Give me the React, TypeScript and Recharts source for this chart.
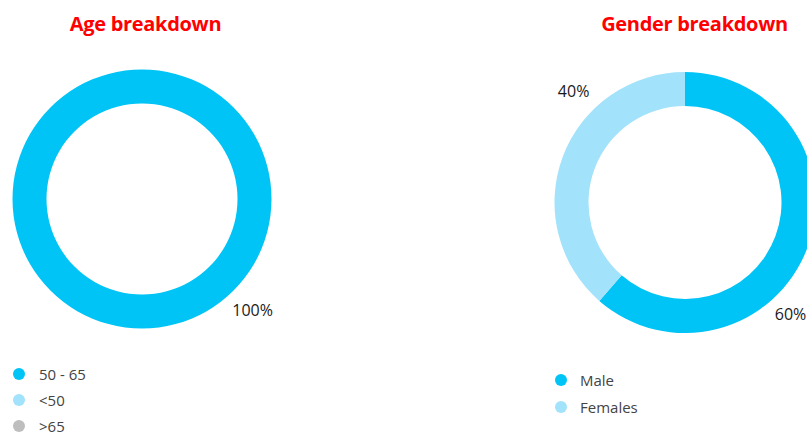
import React from 'react';
import { PieChart, Pie, Cell, Legend } from 'recharts';

const ageCategories = ['50 - 65', '<50', '>65'];
const ageValues = [100, 0, 0];
const ageLabels = ['100%', '', ''];
const genderCategories = ['Male', 'Females'];
const genderValues = [61.4, 38.6];
const genderLabels = ['60%', '40%'];
const titles = ['Age breakdown', 'Gender breakdown'];

const ageColors = ['#00C4F6', '#A2E2FA', '#BEBEBE'];
const genderColors = ['#00C4F6', '#A2E2FA'];

const ageData = ageCategories.map((name, i) => ({ name, value: ageValues[i], text: ageLabels[i] }));
const genderData = genderCategories.map((name, i) => ({
  name,
  value: genderValues[i],
  text: genderLabels[i],
}));

const FONT = "'Open Sans', 'Noto Sans', sans-serif";
const RAD = Math.PI / 180;
const NO_MARGIN = { top: 0, right: 0, bottom: 0, left: 0 };

// labels sit on the nearest diagonal, kept inside the visible area (maxX)
const makeLabel = (maxX: number) => (props: any) => {
  const { cx, cy, outerRadius, midAngle, value, payload } = props;
  const txt = payload?.text ?? props.text;
  if (!value || !txt) return null;
  const a = Math.round((midAngle - 45) / 90) * 90 + 45;
  const r = outerRadius + 27;
  const half = txt.length * 5.5;
  const x = Math.min(cx + r * Math.cos(-a * RAD), maxX - half);
  const y = cy + r * Math.sin(-a * RAD);
  return (
    <text
      x={x}
      y={y}
      textAnchor="middle"
      dominantBaseline="central"
      fill="#1a1a1a"
      fontSize={16}
      fontFamily={FONT}
    >
      {txt}
    </text>
  );
};

const makeLegend = (order: string[], rowHeight: number, gap: number) => (props: any) => {
  const payload = [...(props.payload || [])].sort(
    (a: any, b: any) => order.indexOf(a.value) - order.indexOf(b.value)
  );
  return (
    <ul style={{ listStyle: 'none', margin: 0, padding: 0 }}>
      {payload.map((e: any, i: number) => (
        <li
          key={i}
          style={{
            display: 'flex',
            alignItems: 'center',
            height: rowHeight,
            fontFamily: FONT,
            fontSize: 15,
            color: '#444',
          }}
        >
          <span
            style={{
              display: 'inline-block',
              width: 12,
              height: 12,
              borderRadius: 6,
              background: e.color,
              marginRight: gap,
            }}
          />
          <span>{e.value}</span>
        </li>
      ))}
    </ul>
  );
};

export default function App() {
  return (
    <div
      style={{
        position: 'absolute',
        left: 0,
        top: 0,
        width: 807,
        height: 434,
        overflow: 'hidden',
        background: '#fff',
      }}
    >
      <div style={{ position: 'absolute', left: 0, top: 0 }}>
        <PieChart width={400} height={434} margin={NO_MARGIN}>
          <Pie
            data={ageData}
            dataKey="value"
            nameKey="name"
            cx={142}
            cy={199}
            innerRadius={95.5}
            outerRadius={129.5}
            startAngle={90}
            endAngle={-270}
            stroke="none"
            label={makeLabel(400)}
            labelLine={false}
            isAnimationActive={false}
          >
            {ageData.map((d, i) => (
              <Cell key={d.name} fill={ageColors[i]} />
            ))}
          </Pie>
          <Legend
            layout="vertical"
            align="right"
            verticalAlign="bottom"
            wrapperStyle={{ left: 13, top: 361 }}
            content={makeLegend(ageCategories, 26, 14)}
          />
        </PieChart>
      </div>
      <div style={{ position: 'absolute', left: 400, top: 0 }}>
        <PieChart width={440} height={434} margin={NO_MARGIN}>
          <Pie
            data={genderData}
            dataKey="value"
            nameKey="name"
            cx={285}
            cy={202.5}
            innerRadius={96.5}
            outerRadius={130.5}
            startAngle={90}
            endAngle={-270}
            stroke="none"
            label={makeLabel(407)}
            labelLine={false}
            isAnimationActive={false}
          >
            {genderData.map((d, i) => (
              <Cell key={d.name} fill={genderColors[i]} />
            ))}
          </Pie>
          <Legend
            layout="vertical"
            align="right"
            verticalAlign="bottom"
            wrapperStyle={{ left: 155, top: 366 }}
            content={makeLegend(genderCategories, 27, 13)}
          />
        </PieChart>
      </div>
      <svg
        width={807}
        height={50}
        style={{ position: 'absolute', left: 0, top: 0, pointerEvents: 'none' }}
      >
        <text
          x={145.5}
          y={30.5}
          textAnchor="middle"
          fill="#FF0000"
          fontSize={20}
          fontWeight="bold"
          fontFamily={FONT}
          letterSpacing={-0.3}
        >
          {titles[0]}
        </text>
        <text
          x={694.5}
          y={30.5}
          textAnchor="middle"
          fill="#FF0000"
          fontSize={20}
          fontWeight="bold"
          fontFamily={FONT}
          letterSpacing={-0.3}
        >
          {titles[1]}
        </text>
      </svg>
    </div>
  );
}
